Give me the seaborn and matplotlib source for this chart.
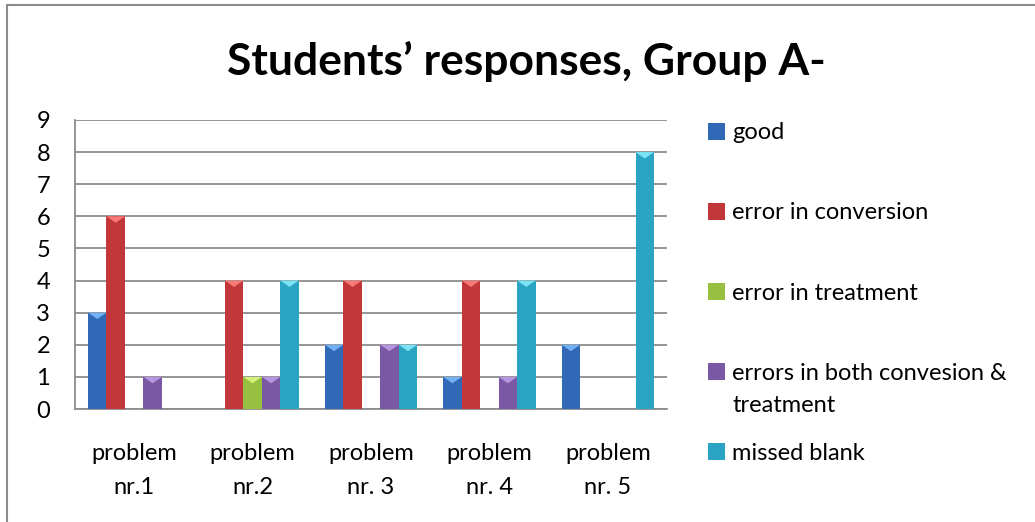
import matplotlib
matplotlib.use("Agg")
import matplotlib.pyplot as plt
import seaborn as sns
import pandas as pd
from matplotlib.patches import Polygon
from matplotlib.lines import Line2D

categories = ["problem\nnr.1", "problem\nnr.2", "problem\nnr. 3", "problem\nnr. 4", "problem\nnr. 5"]
series_names = ["good", "error in conversion", "error in treatment",
                "errors in both convesion &\ntreatment", "missed blank"]
good = [3, 0, 2, 1, 2]
conversion = [6, 4, 4, 4, 0]
treatment = [0, 1, 0, 0, 0]
both = [1, 1, 2, 1, 0]
blank = [0, 4, 2, 4, 8]
title = "Students’ responses, Group A-"

colors = ["#3169B6", "#C2383A", "#97C041", "#7A58A4", "#2BA3C3"]
top_colors = ["#72B2F2", "#F77A76", "#D2F07A", "#B596E0", "#7BE3F7"]

values = [good, conversion, treatment, both, blank]
rows = []
for name, vals in zip(series_names, values):
    for c, v in zip(categories, vals):
        rows.append({"category": c, "series": name, "value": v})
df = pd.DataFrame(rows)

sns.set_theme(style="white")
plt.rcParams['font.family'] = ['Lato', 'DejaVu Sans']
plt.rcParams['text.color'] = 'black'
plt.rcParams['xtick.color'] = 'black'
plt.rcParams['ytick.color'] = 'black'
plt.rcParams['xtick.labelcolor'] = 'black'
plt.rcParams['ytick.labelcolor'] = 'black'

W, H = 1035, 522
fig = plt.figure(figsize=(W / 100, H / 100), dpi=100)
ax = fig.add_axes([75 / W, 1 - 409 / H, 592 / W, 289 / H])

sns.barplot(data=df, x="category", y="value", hue="series", palette=colors,
            hue_order=series_names, order=categories, width=0.78, ax=ax,
            saturation=1, edgecolor="none", legend=True, zorder=3)

# bevelled tops
for i, cont in enumerate(ax.containers):
    for p in cont.patches:
        h = p.get_height()
        if h <= 0:
            continue
        x0 = p.get_x(); w = p.get_width()
        tri_h = 0.2
        ax.add_patch(Polygon([(x0, h), (x0 + w, h), (x0 + w / 2, h - tri_h)],
                             closed=True, facecolor=top_colors[i], edgecolor="none", zorder=4))

ax.set_ylim(0, 9)
ax.set_yticks(range(0, 10))
ax.set_xlim(-0.5, 4.5)
ax.yaxis.grid(True, color="#8C8C8C", linewidth=1.3)
ax.set_axisbelow(True)
for s in ["top", "right"]:
    ax.spines[s].set_visible(False)
for s in ["left", "bottom"]:
    ax.spines[s].set_color("#8C8C8C")
    ax.spines[s].set_linewidth(1.3)
ax.tick_params(axis="y", labelsize=17, pad=18, length=0, labelcolor="black")
ax.tick_params(axis="x", labelsize=17, pad=24.5, length=0, labelcolor="black")
for t in ax.get_xticklabels():
    t.set_linespacing(1.75)
ax.set_xlabel("")
ax.set_ylabel("")

handles, labels = ax.get_legend_handles_labels()
ax.legend_.remove()
first_lines = [l.split("\n")[0] for l in labels]
leg = fig.legend(handles, first_lines, loc="center left", bbox_to_anchor=(708 / W, 1 - 293 / H),
                 frameon=False, fontsize=17, handlelength=0.72, handleheight=0.72,
                 handletextpad=0.3, labelspacing=2.5, borderpad=0, borderaxespad=0,
                 labelcolor="black")

# second line of the wrapped legend label
fig.canvas.draw()
r = fig.canvas.get_renderer()
bb = leg.get_texts()[3].get_window_extent(r)
for name in labels:
    if "\n" in name:
        fig.text(bb.x0 / W, (bb.y0 - 32) / H, name.split("\n")[1], ha="left", va="bottom",
                 fontsize=17, color="black")

t = fig.text(526 / W, 1 - 75 / H, title, ha="center", va="baseline",
             fontsize=30, fontweight="bold", color="black")
fig.canvas.draw()
tw = t.get_window_extent(fig.canvas.get_renderer()).width
t.set_fontsize(30 * 597 / tw)

# chart border (only top and left edges visible in the crop)
fig.add_artist(Line2D([7 / W, 1], [1 - 5 / H, 1 - 5 / H], transform=fig.transFigure,
                      color="#8C8C8C", linewidth=1.5))
fig.add_artist(Line2D([7 / W, 7 / W], [0, 1 - 5 / H], transform=fig.transFigure,
                      color="#8C8C8C", linewidth=1.5))

fig.savefig("out.png", dpi=100)
